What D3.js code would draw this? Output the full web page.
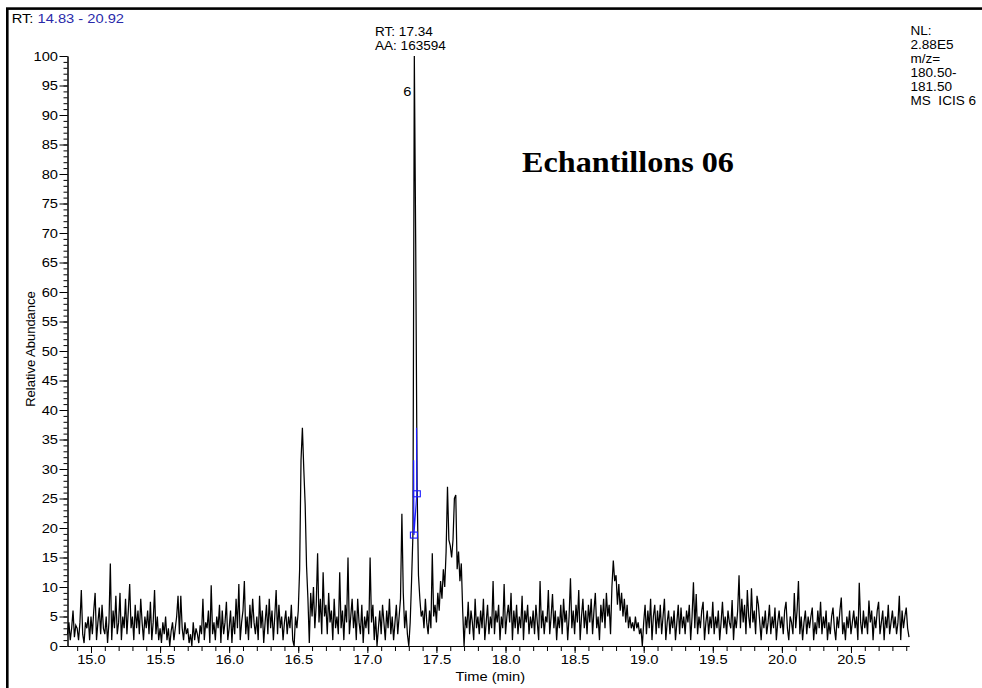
<!DOCTYPE html>
<html>
<head>
<meta charset="utf-8">
<script src="https://cdn.jsdelivr.net/npm/d3@7"></script>
<style>
  body { margin: 0; background: #fff; }
  svg { display: block; }
  text { font-family: "Liberation Sans", Arial, sans-serif; white-space: pre; }
</style>
</head>
<body>
<svg id="chart"></svg>
<script>
// chromatogram values, one every 0.01 min starting at 14.83
const rtStart = 14.83;
const rtStep = 0.01;
const abundance = [
  2, 4, 1, 3, 6, 1.5, 3.5,                  // 14.83
  3, 1, 4, 9.5, 2, 0.5, 4, 3, 5, 1,         // 14.9
  5, 2, 6, 9, 1, 4, 6.5, 2, 7, 3,           // 15.0
  2, 5, 0.5, 4, 14, 1, 6, 3, 8.5, 2,
  4, 9, 1, 5, 3, 8, 2, 6, 10.5, 3,
  5, 1, 7, 3, 6, 2, 8, 4, 1, 5,
  3, 6, 2, 7.5, 1, 4, 9.5, 2, 5, 1,
  3, 0.5, 4, 2, 5, 1, 3, 0, 2.5, 4,         // 15.5
  1, 3, 5, 8.5, 2, 8.5, 3, 1, 4, 2,
  3, 0.5, 2, 0, 4, 1, 3, 2, 0.5, 3.5,
  2, 8, 1, 4, 3, 6, 0.5, 10.3, 2, 4,
  1, 5, 3, 7, 0.5, 6, 2, 4, 7.5, 1,
  3, 6, 0.5, 5, 2, 8, 3, 10.5, 1, 4,        // 16.0
  6, 11, 2, 5, 1, 7, 3, 8, 4, 2,
  5, 1, 8.5, 3, 6, 0.5, 4, 7, 2, 8,
  3, 6, 1, 5, 9.5, 2, 7, 3, 5, 1,
  4, 6, 2, 5, 3, 7, 1, 0, 5, 3,
  6, 13, 31.5, 37, 30, 24, 13.5, 8, 0.5, 9, // 16.5
  5, 10, 3, 7, 15.7, 4, 8, 2, 12.5, 5,
  7, 2, 9, 4, 6, 1, 8, 3, 5, 2,
  12.5, 3, 6, 1, 7, 4, 15, 2, 5, 8,
  3, 6, 1, 8, 4, 2, 7, 0.5, 5, 3,
  6, 2, 15, 4, 7, 1, 5, 0, 3, 6,            // 17.0
  2, 7, 4, 1, 6, 3, 8, 2, 5, 1,
  4, 7, 2, 5, 8, 22.4, 9, 3, 6, 2,
  0, 4, 11, 19, 100, 68, 27, 12, 8, 5,
  6, 3, 8, 4, 2, 6, 3, 15.7, 5, 7,
  4, 9, 6, 11, 8, 13, 10, 16, 27, 18,       // 17.5
  17, 15, 18, 25, 25.6, 13, 16, 11, 14, 6,
  0, 5, 3, 7.5, 2, 6, 4, 1, 8, 3,
  5, 2, 6, 3, 8, 1, 4, 7, 2, 5,
  3, 11, 2, 6, 4, 7, 1, 5, 3, 10.5,
  2, 5, 7, 4, 9, 1, 6, 3, 7, 2,             // 18.0
  5, 3, 8.5, 1, 6, 4, 7, 2, 5, 3,
  6, 2, 7, 4, 1, 11, 3, 6, 2, 5,
  4, 9.5, 2, 5, 8.8, 3, 6, 1, 5, 3,
  7, 2, 8, 4, 6, 1, 5, 11.5, 3, 6,
  2, 7, 4, 9.5, 1, 5, 8, 3, 6, 2,           // 18.5
  7, 4, 8, 2, 6, 9, 3, 5, 1, 7,
  4, 8, 3, 9, 5, 7, 2, 10, 14.5, 11,
  12, 7, 10.5, 6, 9, 5, 8, 4, 7, 3,
  5, 3, 4, 2.5, 5, 3, 4, 2, 3, 0,
  4, 7, 2, 6, 3, 8, 1, 5, 7, 2,             // 19.0
  6, 3, 7, 2, 5, 8, 1, 4, 6, 2,
  5, 3, 6, 1, 4, 7, 2, 6.5, 3, 5,
  2, 6, 4, 7, 1, 5, 10.8, 3, 8.8, 2,
  5, 3, 6, 7.5, 1, 4, 6, 2, 5, 3,
  7.5, 2, 5, 3, 6, 1, 4, 7.5, 3, 5,         // 19.5
  2, 6, 4, 3, 7.8, 1, 5, 3, 6, 12,
  3, 8, 4, 7, 2, 9.5, 5, 3, 9.8, 4,
  6, 2, 8.5, 7, 4, 1, 5, 3, 6, 2,
  4, 7, 2, 5, 3, 6.5, 1, 4, 6, 3,
  5, 2, 6, 7.5, 3, 1, 5, 4, 2, 9,           // 20.0
  3, 6, 11, 2, 5, 1, 4, 6, 2, 5,
  3, 5, 6.5, 1, 4, 2, 6, 3, 7.5, 2,
  5, 3, 6, 1, 4, 2, 5, 6.5, 3, 1,
  5, 3, 6, 8.2, 2, 4, 1, 5, 3, 6,
  2, 4, 6, 3, 5, 1, 10.7, 4, 2, 6,          // 20.5
  3, 5, 2, 7.7, 4, 6, 1, 5, 3, 6,
  7.5, 2, 4, 6, 1, 5, 3, 7, 2, 4,
  6, 3, 5, 2, 4, 8.5, 1, 6, 3, 5,
  6.5, 3, 1.5                               // 20.9
];

const rtRange = [14.83, 20.92];
const yMajorTicks = d3.range(0, 101, 5);
const yMinorTicks = d3.range(0, 101, 1);
const xMajorTicks = [15.0, 15.5, 16.0, 16.5, 17.0, 17.5, 18.0, 18.5, 19.0, 19.5, 20.0, 20.5];
const xMinorTicks = d3.range(149, 210).map(v => v / 10);

const peakInfo = ['RT: 17.34', 'AA: 163594'];
const peakRt = 17.34;
const peakNumber = '6';
const nlLines = ['NL:', '2.88E5', 'm/z=', '180.50-', '181.50', 'MS  ICIS 6'];
const sampleTitle = 'Echantillons 06';
// integration markers drawn in blue on the main peak
const integrationTrace = [[17.335, 31.5], [17.337, 18.8], [17.358, 25.8], [17.356, 37]];
const integrationPoints = [[17.337, 18.8], [17.358, 25.8]];

const W = 982, H = 688;
const stretch = 1.13; // text in the capture is a bit wide
const svg = d3.select('#chart').attr('width', W).attr('height', H);

// frame
svg.append('rect')
  .attr('x', 7.3).attr('y', 8.6)
  .attr('width', 1000).attr('height', 700)
  .attr('fill', 'none').attr('stroke', '#000').attr('stroke-width', 2.6);

const x = d3.scaleLinear().domain(rtRange).range([67.5, 909]);
const y = d3.scaleLinear().domain([0, 100]).range([646, 56]);

// y axis
svg.append('g')
  .attr('transform', 'translate(67.5,0)')
  .call(d3.axisLeft(y).tickValues(yMinorTicks).tickSize(4).tickSizeOuter(0).tickFormat(''));
const yAx = svg.append('g')
  .attr('transform', 'translate(67.5,0)')
  .call(d3.axisLeft(y).tickValues(yMajorTicks).tickSize(8).tickSizeOuter(0));
yAx.selectAll('text')
  .attr('x', -8.4)
  .attr('transform', `scale(${stretch},1)`);

// x axis
svg.append('g')
  .attr('transform', 'translate(0,646)')
  .call(d3.axisBottom(x).tickValues(xMinorTicks).tickSize(5).tickSizeOuter(0).tickFormat(''));
const xAx = svg.append('g')
  .attr('transform', 'translate(0,646)')
  .call(d3.axisBottom(x).tickValues(xMajorTicks).tickSize(7).tickSizeOuter(0).tickFormat(d3.format('.1f')));
xAx.selectAll('text')
  .attr('dy', null).attr('y', 18.5)
  .attr('transform', `scale(${stretch},1)`);

svg.selectAll('.tick text')
  .attr('fill', '#000')
  .style('font-family', '"Liberation Sans", Arial, sans-serif')
  .style('font-size', '13px');
svg.selectAll('.domain, .tick line').attr('stroke', '#000').attr('stroke-width', 1);

// trace
const line = d3.line()
  .x((d, i) => x(rtStart + i * rtStep))
  .y(d => y(d));
svg.append('path')
  .datum(abundance)
  .attr('d', line)
  .attr('fill', 'none')
  .attr('stroke', '#000')
  .attr('stroke-width', 1.25);

// integration marks
svg.append('path')
  .datum(integrationTrace)
  .attr('d', d3.line().x(d => x(d[0])).y(d => y(d[1])))
  .attr('fill', 'none').attr('stroke', '#1a1aff').attr('stroke-width', 1.2);
svg.selectAll('.mark')
  .data(integrationPoints)
  .join('rect')
  .attr('x', d => x(d[0]) - 3.5).attr('y', d => y(d[1]) - 3)
  .attr('width', 7).attr('height', 6)
  .attr('fill', 'none').attr('stroke', '#1a1aff').attr('stroke-width', 1.1);

// texts
function label(txt, tx, ty, size) {
  return svg.append('text')
    .attr('transform', `translate(${tx},${ty}) scale(${stretch},1)`)
    .style('font-size', (size || 13) + 'px')
    .text(txt);
}

const rt = label('RT: ', 11.7, 23.3);
rt.append('tspan').attr('fill', '#2a2aaa').text(rtRange.map(d => d.toFixed(2)).join(' - '));

peakInfo.forEach((t, i) => label(t, 375, 35.5 + i * 14, 12));
label(peakNumber, x(peakRt) - 11, 95.5);
nlLines.forEach((t, i) => label(t, 910.5, 34.5 + i * 14, 12));

label(sampleTitle, 522, 172, 28.5)
  .style('font-family', '"Liberation Serif", "Times New Roman", serif')
  .style('font-weight', 'bold');

svg.append('text')
  .attr('transform', 'translate(35,349) rotate(-90)')
  .attr('text-anchor', 'middle')
  .style('font-size', '13px')
  .text('Relative Abundance');

label('Time (min)', 0, 681).attr('text-anchor', 'middle')
  .attr('transform', `translate(${x(17.89)},681) scale(${stretch},1)`);
</script>
</body>
</html>
